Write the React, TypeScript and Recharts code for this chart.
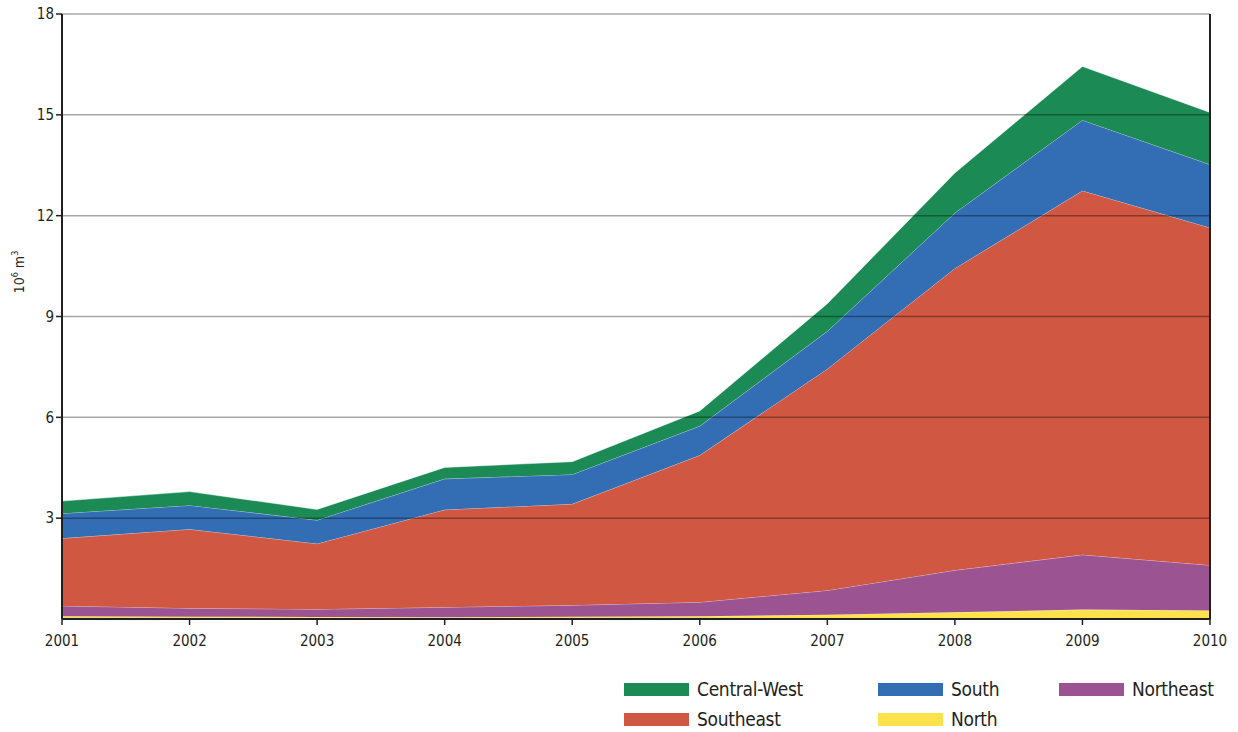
import React from 'react';
import { AreaChart, Area, XAxis, YAxis, ReferenceLine } from 'recharts';

const years = ['2001', '2002', '2003', '2004', '2005', '2006', '2007', '2008', '2009', '2010'];
const north = [0.08, 0.07, 0.06, 0.05, 0.07, 0.08, 0.13, 0.2, 0.28, 0.25];
const northeast = [0.31, 0.25, 0.23, 0.3, 0.34, 0.42, 0.72, 1.25, 1.63, 1.35];
const southeast = [2.01, 2.35, 1.95, 2.9, 3.01, 4.37, 6.59, 8.98, 10.83, 10.04];
const south = [0.74, 0.71, 0.7, 0.92, 0.88, 0.87, 1.12, 1.65, 2.1, 1.88];
const centralWest = [0.37, 0.41, 0.32, 0.34, 0.38, 0.45, 0.82, 1.19, 1.6, 1.55];
const yTicks = [3, 6, 9, 12, 15, 18];
const gridValues = [3, 6, 9, 12, 15, 18];

const data = years.map((y, i) => ({
  year: y,
  North: north[i],
  Northeast: northeast[i],
  Southeast: southeast[i],
  South: south[i],
  'Central-West': centralWest[i],
}));

const FONT = '"Liberation Sans Narrow", "DejaVu Sans", sans-serif';
const AXIS = '#231f20';

const colors: Record<string, string> = {
  North: '#fde24c',
  Northeast: '#9b5491',
  Southeast: '#d05742',
  South: '#336eb4',
  'Central-West': '#1b8a55',
};

const legendRows = [
  ['Central-West', 'South', 'Northeast'],
  ['Southeast', 'North'],
];
const colLefts = [624, 878, 1059];

const LegendBlock = () => (
  <div style={{ position: 'absolute', left: 0, top: 677, width: 1238, height: 55, fontFamily: FONT, fontStretch: 'condensed' }}>
    {legendRows.map((row, r) =>
      row.map((name, c) => (
        <div
          key={name}
          style={{
            position: 'absolute',
            left: colLefts[c],
            top: r * 30,
            height: 24,
            display: 'flex',
            alignItems: 'center',
          }}
        >
          <div style={{ width: 65, height: 13, background: colors[name] }} />
          <span style={{ marginLeft: 8, fontSize: 19, letterSpacing: -0.3, color: '#231f20', whiteSpace: 'nowrap', fontStretch: 'condensed' }}>{name}</span>
        </div>
      ))
    )}
  </div>
);

const YLabel = (props: any) => {
  const vb = props.viewBox || {};
  const cx = 20;
  const cy = (vb.y ?? 0) + 258;
  return (
    <text x={cx} y={cy} transform={`rotate(-90 ${cx} ${cy})`} textAnchor="middle" dominantBaseline="middle" fontFamily={FONT} fontSize={14} fill={AXIS} style={{ fontStretch: 'condensed' }}>
      10<tspan dy={-5} fontSize={9}>6</tspan>
      <tspan dy={5}> m</tspan>
      <tspan dy={-5} fontSize={9}>3</tspan>
    </text>
  );
};

export default function App() {
  const order = ['North', 'Northeast', 'Southeast', 'South', 'Central-West'];
  return (
    <div style={{ position: 'absolute', left: 0, top: 0, width: 1238, height: 732, background: '#fff', fontStretch: 'condensed' }}>
      <AreaChart width={1238} height={732} data={data} margin={{ top: 14, right: 28, bottom: 83, left: 0 }} style={{ fontStretch: 'condensed' }}>
        <XAxis
          dataKey="year"
          height={30}
          axisLine={{ stroke: AXIS, strokeWidth: 2 }}
          tickLine={{ stroke: AXIS, strokeWidth: 1.5 }}
          tickSize={6}
          tick={{ fontFamily: FONT, fontSize: 15, fill: AXIS, dy: 8 }}
          interval={0}
        />
        <YAxis
          domain={[0, 18]}
          ticks={yTicks}
          width={62}
          axisLine={{ stroke: AXIS, strokeWidth: 2 }}
          tickLine={{ stroke: AXIS, strokeWidth: 1.5 }}
          tickSize={6}
          tick={{ fontFamily: FONT, fontSize: 15, fill: AXIS }}
          label={<YLabel />}
        />
        {order.map((k) => (
          <Area
            key={k}
            type="linear"
            dataKey={k}
            stackId="1"
            fill={colors[k]}
            fillOpacity={1}
            stroke="#ffffff"
            strokeOpacity={0.45}
            strokeWidth={1}
            isAnimationActive={false}
          />
        ))}
        {gridValues.map((v) => (
          <ReferenceLine key={v} y={v} stroke="#000" strokeOpacity={0.35} strokeWidth={1.5} />
        ))}
        <ReferenceLine x="2010" stroke={AXIS} strokeWidth={2} />
      </AreaChart>
      <LegendBlock />
    </div>
  );
}
